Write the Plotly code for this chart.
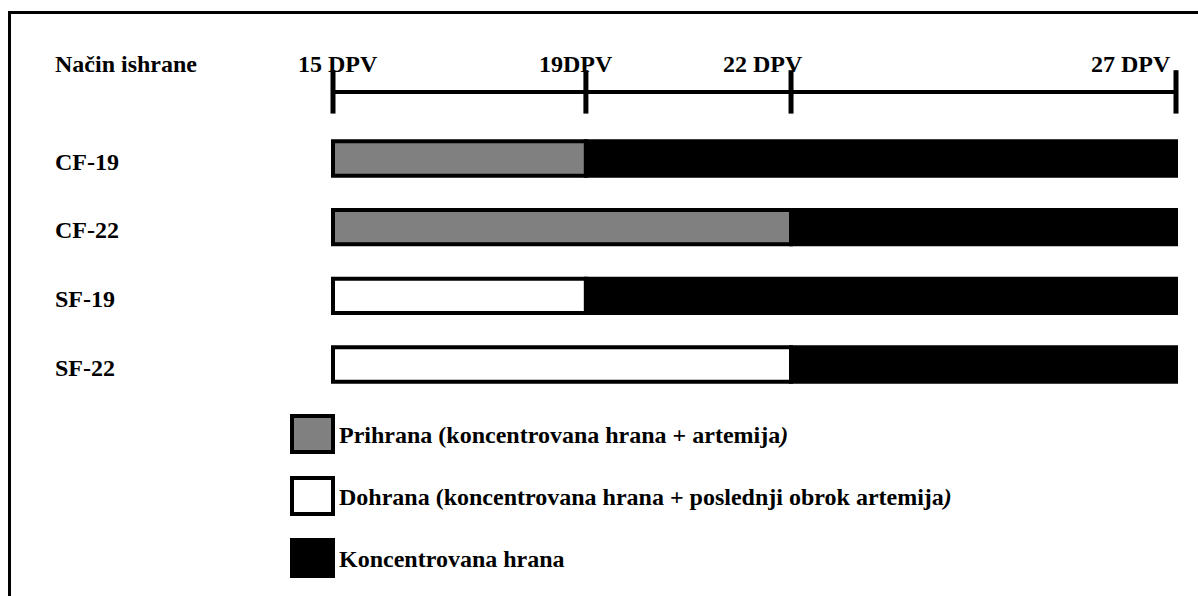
import plotly.graph_objects as go

# feeding groups and the day each one switches to concentrate only
groups = ["CF-19", "CF-22", "SF-19", "SF-22"]
switch_day = [19, 22, 19, 22]
group_kind = ["Prihrana", "Prihrana", "Dohrana", "Dohrana"]

start_day = 15
end_day = 27

# timeline marks; the schematic is not drawn to scale, so each day has its
# place on the drawn axis
tick_days = [15, 19, 22, 27]
tick_labels = ["15 DPV", "19DPV", "22 DPV", "27 DPV"]
tick_place = [15.0, 18.6, 21.52, 27.0]

legend_names = ["Prihrana", "Dohrana", "Koncentrovana hrana"]
legend_texts = [
    "Prihrana (koncentrovana hrana + artemija<i>)</i>",
    "Dohrana (koncentrovana hrana + poslednji obrok artemija<i>)</i>",
    "Koncentrovana hrana",
]

colors = {"Prihrana": "#808080", "Dohrana": "#ffffff", "Koncentrovana hrana": "#000000"}

W, H = 1198, 596
FONT = dict(family="Liberation Serif, Times New Roman, serif", size=24, color="black")


def place(day):
    return tick_place[tick_days.index(day)]


rows = list(range(len(groups)))
header_y = -0.97

fig = go.Figure()

# first part of the feeding (starter feed) and the rest (concentrate)
first_x, first_base, first_col = [], [], []
rest_x, rest_base = [], []
for kind, day in zip(group_kind, switch_day):
    first_base.append(place(start_day))
    first_x.append(place(day) - place(start_day))
    first_col.append(colors[kind])
    rest_base.append(place(day))
    rest_x.append(place(end_day) - place(day))

fig.add_trace(go.Bar(
    y=rows, x=first_x, base=first_base, orientation="h", width=0.5,
    marker=dict(color=first_col, line=dict(color="black", width=4)),
    hoverinfo="skip", showlegend=False,
))
fig.add_trace(go.Bar(
    y=rows, x=rest_x, base=rest_base, orientation="h", width=0.5,
    marker=dict(color=colors["Koncentrovana hrana"], line=dict(color="black", width=4)),
    hoverinfo="skip", showlegend=False,
))

# timeline
fig.add_trace(go.Scatter(
    x=[place(start_day), place(end_day)], y=[header_y, header_y], mode="lines",
    line=dict(color="black", width=4), hoverinfo="skip", showlegend=False,
))
fig.add_trace(go.Scatter(
    x=tick_place, y=[header_y] * len(tick_place), mode="markers",
    marker=dict(symbol="line-ns", size=31, line=dict(color="black", width=5)),
    hoverinfo="skip", showlegend=False,
))

annotations = []
label_shift = [5, -10, -28, -45]
for pos, lab, sh in zip(tick_place, tick_labels, label_shift):
    annotations.append(dict(x=pos, y=header_y, xref="x", yref="y", text="<b>%s</b>" % lab,
                            showarrow=False, xanchor="center", yanchor="middle",
                            xshift=sh, yshift=28, font=FONT))

annotations.append(dict(x=53 / W, y=header_y, xref="paper", yref="y", text="<b>Način ishrane</b>",
                        showarrow=False, xanchor="left", yanchor="middle", yshift=28, font=FONT))
for r, g in zip(rows, groups):
    annotations.append(dict(x=53 / W, y=r, xref="paper", yref="y", text="<b>%s</b>" % g,
                            showarrow=False, xanchor="left", yanchor="middle", yshift=-3, font=FONT))

# legend drawn as boxes + text
shapes = []
legend_centers = [434, 496, 558]
for name, txt, cy in zip(legend_names, legend_texts, legend_centers):
    shapes.append(dict(type="rect", xref="paper", yref="paper",
                       x0=292 / W, x1=333 / W, y0=1 - (cy + 18) / H, y1=1 - (cy - 18) / H,
                       fillcolor=colors[name], line=dict(color="black", width=4)))
    annotations.append(dict(x=337 / W, y=1 - (cy + 1) / H, xref="paper", yref="paper",
                            text="<b>%s</b>" % txt, showarrow=False,
                            xanchor="left", yanchor="middle", font=FONT))

# frame (only the top and left edges fall inside the picture)
shapes.append(dict(type="rect", xref="paper", yref="paper",
                   x0=9.5 / W, x1=1.05, y0=-0.05, y1=1 - 12.5 / H,
                   line=dict(color="black", width=3), fillcolor="rgba(0,0,0,0)"))

px_per_unit = (1176 - 333) / (27 - 15)
x0 = 15 - 333 / px_per_unit
x1 = x0 + W / px_per_unit
row_px = 68.67
y_top = -158.5 / row_px
y_bot = (H - 158.5) / row_px

fig.update_layout(
    width=W, height=H,
    margin=dict(l=0, r=0, t=0, b=0),
    paper_bgcolor="white", plot_bgcolor="white",
    barmode="overlay",
    xaxis=dict(range=[x0, x1], visible=False, fixedrange=True),
    yaxis=dict(range=[y_bot, y_top], visible=False, fixedrange=True),
    annotations=annotations,
    shapes=shapes,
    showlegend=False,
)

fig.write_html("out.html", config={"displayModeBar": False},
               post_script="document.body.style.margin='0';document.body.style.overflow='hidden';")
